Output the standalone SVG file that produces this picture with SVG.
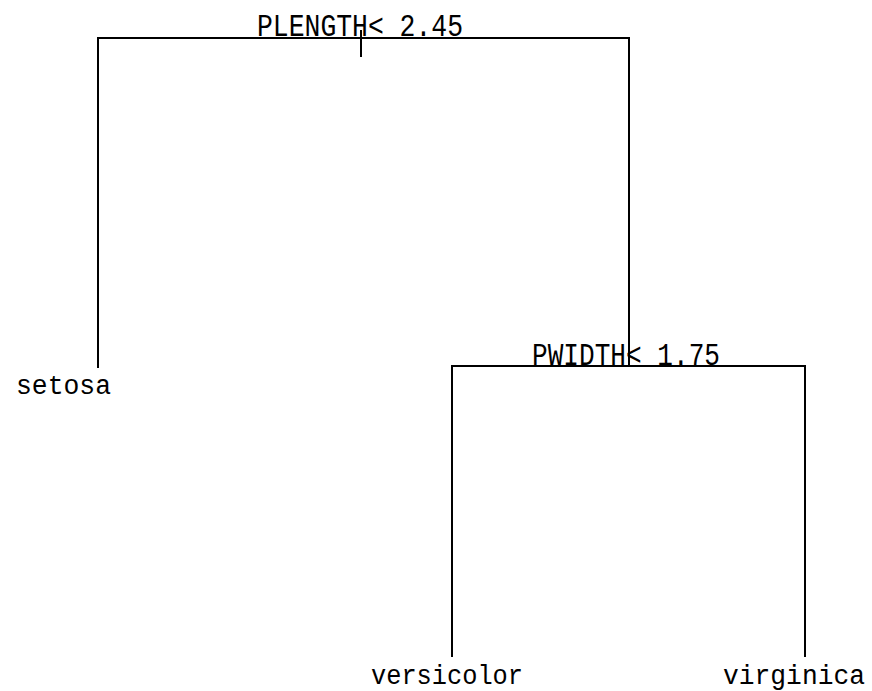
<svg xmlns="http://www.w3.org/2000/svg" width="872" height="691" viewBox="0 0 872 691">
<style>
.e{stroke:#000;stroke-width:2;fill:none}
.t{font-family:"Liberation Mono","DejaVu Sans Mono",monospace;fill:#000}
.c{font-size:32px}
.l{font-size:27px}
</style>
<rect width="872" height="691" fill="#fff"/>
<g id="connectors">
<path class="e" d="M98,368V38H629V366"/>
<path class="e" d="M361,30V57"/>
<path class="e" d="M452,657V366H805V657"/>
</g>
<g id="node-root"><text class="t c" x="257" y="36" textLength="206" lengthAdjust="spacingAndGlyphs">PLENGTH&lt; 2.45</text></g>
<g id="node-pwidth"><text class="t c" x="532" y="365" textLength="188" lengthAdjust="spacingAndGlyphs">PWIDTH&lt; 1.75</text></g>
<g id="node-setosa"><text class="t l" x="16" y="394" textLength="95" lengthAdjust="spacingAndGlyphs">setosa</text></g>
<g id="node-versicolor"><text class="t l" x="371" y="684" textLength="152" lengthAdjust="spacingAndGlyphs">versicolor</text></g>
<g id="node-virginica"><text class="t l" x="723" y="684" textLength="142" lengthAdjust="spacingAndGlyphs">virginica</text></g>
</svg>
